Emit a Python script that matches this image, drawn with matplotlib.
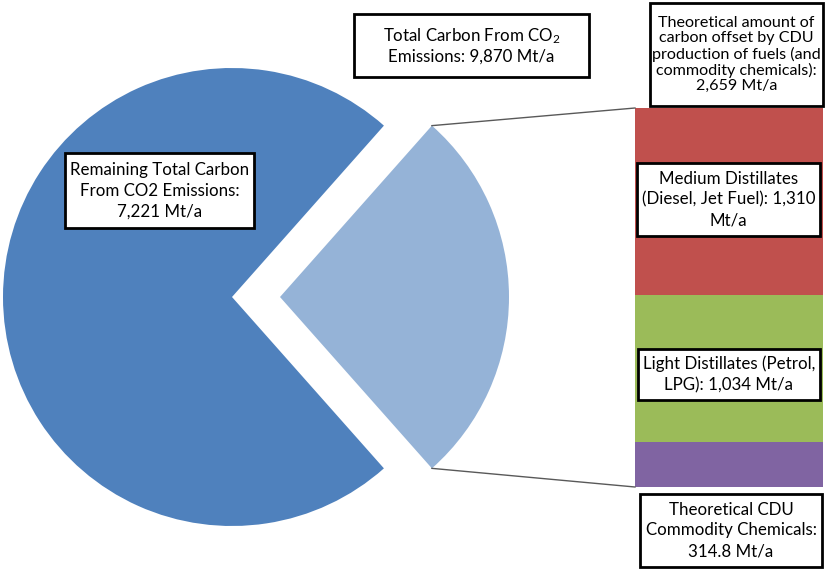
import matplotlib
matplotlib.use('Agg')
import matplotlib.pyplot as plt
import matplotlib.patches as mpatches
import numpy as np

plt.rcParams['font.family'] = ['Lato', 'DejaVu Sans']
plt.rcParams['mathtext.fontset'] = 'custom'
plt.rcParams['mathtext.rm'] = 'Lato'
plt.rcParams['mathtext.it'] = 'Lato:italic'

# data
pie_labels = ['Remaining Total Carbon', 'CDU offset']
pie_values = [7221, 2659]
bar_labels = ['Theoretical CDU Commodity Chemicals', 'Light Distillates', 'Medium Distillates']
bar_values = [314.8, 1034, 1310]

pie_colors = ['#4F81BD', '#95B3D7']
bar_colors = ['#8064A2', '#9BBB59', '#C0504D']

W, H = 827, 570
fig = plt.figure(figsize=(W / 100, H / 100), dpi=100)

# stacked bar in its own axes
bl, br, bt, bb = 635, 823, 108, 487
bax = fig.add_axes([bl / W, 1 - bb / H, (br - bl) / W, (bb - bt) / H])
bax.set_zorder(1)
bottom = 0
for v, c in zip(bar_values, bar_colors):
    bax.bar(0.5, v, width=1, bottom=bottom, color=c, linewidth=0)
    bottom += v
bax.set_xlim(0, 1)
bax.set_ylim(0, sum(bar_values))
bax.axis('off')

# main axes in pixel coordinates, on top of the bar
ax = fig.add_axes([0, 0, 1, 1])
ax.set_zorder(2)
ax.patch.set_visible(False)

# pie, with the offset slice pulled out to the right
cx, cy, r = 232, 297, 229
shift = 48
frac = pie_values[1] / sum(pie_values)
half = frac * 180
ax.pie(pie_values[::-1], colors=pie_colors[::-1], startangle=-half,
       center=(cx, cy), radius=r, explode=[shift, 0], frame=True,
       wedgeprops=dict(linewidth=0))
ax.set_xlim(0, W)
ax.set_ylim(H, 0)
ax.set_aspect('equal')
ax.axis('off')

# connector lines
lx = cx + shift
a = np.radians(half)
ax.plot([lx + r * np.cos(a), bl], [cy - r * np.sin(a), bt], color='#595959', lw=1)
ax.plot([lx + r * np.cos(a), bl], [cy + r * np.sin(a), bb], color='#595959', lw=1)

fs = 12.2

def label(x0, y0, x1, y1, s, ls=1.36, size=fs):
    ax.add_patch(mpatches.Rectangle((x0, y0), x1 - x0, y1 - y0, facecolor='white',
                                    edgecolor='black', linewidth=2, zorder=5))
    ax.text((x0 + x1) / 2, (y0 + y1) / 2, s, ha='center', va='center',
            fontsize=size, linespacing=ls, zorder=6)

label(354, 14, 589, 77, 'Total Carbon From CO$_2$\nEmissions: 9,870 Mt/a', ls=1.25)
label(650, 3, 823, 106, 'Theoretical amount of\ncarbon offset by CDU\nproduction of fuels (and\ncommodity chemicals):\n2,659 Mt/a', ls=1.1, size=11.6)
label(65, 153, 254, 228, 'Remaining Total Carbon\nFrom CO2 Emissions:\n7,221 Mt/a')
label(637, 163, 820, 236, 'Medium Distillates\n(Diesel, Jet Fuel): 1,310\nMt/a')
label(638, 349, 820, 400, 'Light Distillates (Petrol,\nLPG): 1,034 Mt/a')
label(640, 494, 822, 567, 'Theoretical CDU\nCommodity Chemicals:\n314.8 Mt/a')

fig.savefig('out.png', dpi=100)
